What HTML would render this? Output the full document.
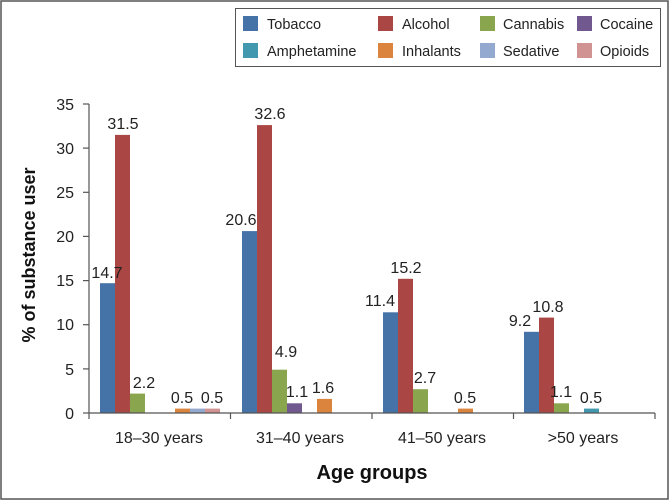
<!DOCTYPE html>
<html><head><meta charset="utf-8"><style>
body{margin:0;background:#fff}
svg{display:block;font-family:"Liberation Sans",sans-serif}
</style></head><body>
<svg width="670" height="501" viewBox="0 0 670 501" xmlns="http://www.w3.org/2000/svg">
<rect x="1" y="1" width="667" height="498" fill="#fff" stroke="#555" stroke-width="1.5"/>
<!-- legend -->
<rect x="235.5" y="8.5" width="425" height="58" fill="#fff" stroke="#555" stroke-width="1"/>
<g font-size="14.5" fill="#222">
<rect x="243" y="16" width="15" height="15" fill="#4572A7"/><text x="267" y="29">Tobacco</text>
<rect x="378" y="16" width="15" height="15" fill="#AA4643"/><text x="402" y="29">Alcohol</text>
<rect x="480" y="16" width="15" height="15" fill="#89A54E"/><text x="503" y="29">Cannabis</text>
<rect x="577" y="16" width="15" height="15" fill="#71588F"/><text x="600" y="29">Cocaine</text>
<rect x="243" y="43" width="15" height="15" fill="#4198AF"/><text x="267" y="56">Amphetamine</text>
<rect x="378" y="43" width="15" height="15" fill="#DB843D"/><text x="402" y="56">Inhalants</text>
<rect x="480" y="43" width="15" height="15" fill="#93A9CF"/><text x="503" y="56">Sedative</text>
<rect x="577" y="43" width="15" height="15" fill="#D19392"/><text x="600" y="56">Opioids</text>
</g>
<!-- bars -->
<g>
<rect x="100" y="283.2" width="15" height="129.8" fill="#4572A7"/>
<rect x="115" y="134.9" width="15" height="278.1" fill="#AA4643"/>
<rect x="130" y="393.6" width="15" height="19.4" fill="#89A54E"/>
<rect x="175" y="408.6" width="15" height="4.4" fill="#DB843D"/>
<rect x="190" y="408.6" width="15" height="4.4" fill="#93A9CF"/>
<rect x="205" y="408.6" width="15" height="4.4" fill="#D19392"/>

<rect x="242" y="231.1" width="15" height="181.9" fill="#4572A7"/>
<rect x="257" y="125.1" width="15" height="287.9" fill="#AA4643"/>
<rect x="272" y="369.7" width="15" height="43.3" fill="#89A54E"/>
<rect x="287" y="403.3" width="15" height="9.7" fill="#71588F"/>
<rect x="317" y="398.9" width="15" height="14.1" fill="#DB843D"/>

<rect x="383" y="312.3" width="15" height="100.7" fill="#4572A7"/>
<rect x="398" y="278.8" width="15" height="134.2" fill="#AA4643"/>
<rect x="413" y="389.2" width="15" height="23.8" fill="#89A54E"/>
<rect x="458" y="408.6" width="15" height="4.4" fill="#DB843D"/>

<rect x="524" y="331.8" width="15" height="81.2" fill="#4572A7"/>
<rect x="539" y="317.6" width="15" height="95.4" fill="#AA4643"/>
<rect x="554" y="403.3" width="15" height="9.7" fill="#89A54E"/>
<rect x="584" y="408.6" width="15" height="4.4" fill="#4198AF"/>
</g>
<!-- axes -->
<g stroke="#555" stroke-width="1.2">
<line x1="89" y1="104" x2="89" y2="413"/>
<line x1="89" y1="413" x2="655" y2="413"/>
<line x1="83" y1="104" x2="89" y2="104"/>
<line x1="83" y1="148.1" x2="89" y2="148.1"/>
<line x1="83" y1="192.3" x2="89" y2="192.3"/>
<line x1="83" y1="236.4" x2="89" y2="236.4"/>
<line x1="83" y1="280.6" x2="89" y2="280.6"/>
<line x1="83" y1="324.7" x2="89" y2="324.7"/>
<line x1="83" y1="368.9" x2="89" y2="368.9"/>
<line x1="83" y1="413" x2="89" y2="413"/>
<line x1="89" y1="413" x2="89" y2="419"/>
<line x1="230.5" y1="413" x2="230.5" y2="419"/>
<line x1="372" y1="413" x2="372" y2="419"/>
<line x1="513.5" y1="413" x2="513.5" y2="419"/>
<line x1="655" y1="413" x2="655" y2="419"/>
</g>
<g font-size="16" fill="#222" text-anchor="end">
<text x="74" y="110">35</text><text x="74" y="154">30</text><text x="74" y="198">25</text>
<text x="74" y="242">20</text><text x="74" y="286">15</text><text x="74" y="330">10</text>
<text x="74" y="375">5</text><text x="74" y="419">0</text>
</g>
<g font-size="16" fill="#222" text-anchor="middle">
<text x="159" y="443">18–30 years</text>
<text x="300" y="443">31–40 years</text>
<text x="442" y="443">41–50 years</text>
<text x="583" y="443">>50 years</text>
</g>
<text x="372" y="479" font-size="20" font-weight="bold" text-anchor="middle" fill="#111">Age groups</text>
<text transform="translate(35,255) rotate(-90)" font-size="18" font-weight="bold" text-anchor="middle" fill="#111">% of substance user</text>
<!-- value labels -->
<g font-size="16" fill="#222" text-anchor="middle">
<text x="107" y="278">14.7</text>
<text x="123" y="129">31.5</text>
<text x="144" y="388">2.2</text>
<text x="182" y="403">0.5</text>
<text x="212" y="403">0.5</text>
<text x="241" y="225">20.6</text>
<text x="270" y="119">32.6</text>
<text x="286" y="357">4.9</text>
<text x="297" y="397">1.1</text>
<text x="323" y="393">1.6</text>
<text x="380" y="306">11.4</text>
<text x="406" y="273">15.2</text>
<text x="425" y="383">2.7</text>
<text x="465" y="403">0.5</text>
<text x="520" y="326">9.2</text>
<text x="548" y="312">10.8</text>
<text x="561" y="397">1.1</text>
<text x="591" y="403">0.5</text>
</g>
</svg>
</body></html>
